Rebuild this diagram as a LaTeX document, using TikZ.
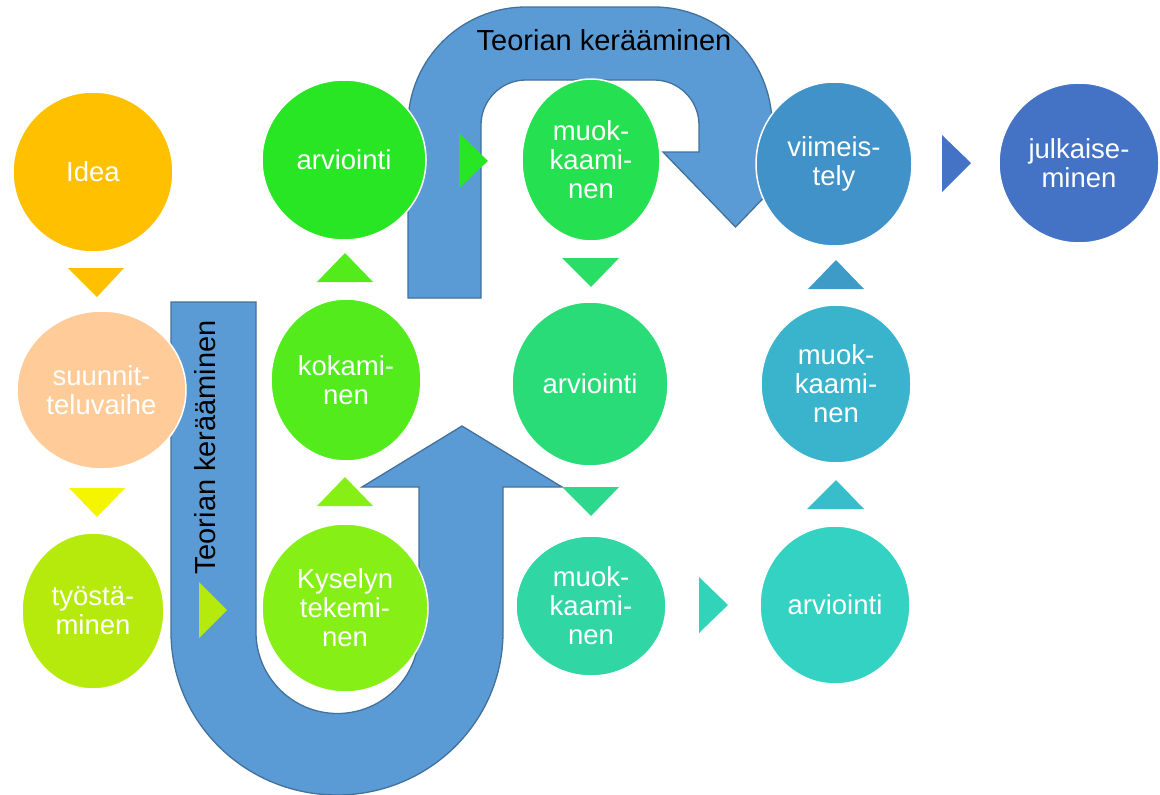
\documentclass[tikz,border=0pt]{standalone}
\usepackage{fontspec}
\setmainfont{Liberation Sans}
\usetikzlibrary{shapes.geometric}
\definecolor{arrowblue}{RGB}{91,155,213}
\definecolor{arrowedge}{RGB}{65,113,156}
\definecolor{cA}{RGB}{255,192,0}
\definecolor{cB}{RGB}{255,204,153}
\definecolor{cBt}{RGB}{245,245,0}
\definecolor{cC}{RGB}{181,234,12}
\definecolor{cD}{RGB}{134,239,21}
\definecolor{cE}{RGB}{83,235,28}
\definecolor{cF}{RGB}{40,230,35}
\definecolor{cG}{RGB}{37,224,80}
\definecolor{cGt}{RGB}{40,222,100}
\definecolor{cH}{RGB}{42,220,120}
\definecolor{cHt}{RGB}{45,216,140}
\definecolor{cI}{RGB}{48,214,164}
\definecolor{cIt}{RGB}{50,212,185}
\definecolor{cJ}{RGB}{52,210,195}
\definecolor{cJt}{RGB}{56,190,202}
\definecolor{cK}{RGB}{58,180,205}
\definecolor{cKt}{RGB}{62,155,200}
\definecolor{cL}{RGB}{64,146,200}
\definecolor{cM}{RGB}{68,114,196}
\begin{document}
\begin{tikzpicture}[x=1pt,y=1pt,
  bub/.style={ellipse, draw=white, line width=1.5pt, inner sep=0pt, text=white,
    align=center, font=\fontsize{27.5}{29}\selectfont},
  uarrow/.style={fill=arrowblue, draw=arrowedge, line width=1.3pt, line join=miter},
  lab/.style={font=\fontsize{29}{31}\selectfont, text=black, inner sep=0pt, anchor=base}
]
\useasboundingbox (0,0) rectangle (1160,-795);

% U-turn arrow bottom
\path[uarrow] (171,-302) -- (256,-302) -- (256,-632)
  arc[start angle=180, end angle=360, radius=81.5pt]
  -- (419,-487) -- (362,-487) -- (462,-426) -- (562,-487) -- (503,-487) -- (503,-632)
  arc[start angle=0, end angle=-180, x radius=166pt, y radius=163pt]
  -- cycle;

% U-turn arrow top
\path[uarrow] (408,-298) -- (408,-125)
  arc[start angle=180, end angle=90, radius=118pt]
  -- (654,-7)
  arc[start angle=90, end angle=0, radius=118pt]
  -- (772,-152) -- (808,-152) -- (735.5,-227) -- (663,-152) -- (699,-152) -- (699,-125)
  arc[start angle=0, end angle=90, radius=45pt]
  -- (526,-80)
  arc[start angle=90, end angle=180, radius=45pt]
  -- (481,-298) -- cycle;

% circles
\node[bub, fill=cA, minimum width=160pt, minimum height=160pt] (idea) at (93,-172) {Idea};
\node[bub, fill=cB, minimum width=169pt, minimum height=158pt] (suun) at (101.5,-390) {suunnit-\\teluvaihe};
\node[bub, fill=cC, minimum width=142pt, minimum height=156pt] (tyo) at (93,-611) {työstä-\\minen};
\node[bub, fill=cD, minimum width=166pt, minimum height=168pt] (kys) at (345,-608) {Kyselyn\\tekemi-\\nen};
\node[bub, fill=cE, minimum width=150pt, minimum height=162pt] (kok) at (346,-380) {kokami-\\nen};
\node[bub, fill=cF, minimum width=164pt, minimum height=160pt] (arv1) at (344,-160) {arviointi};
\node[bub, fill=cG, minimum width=138pt, minimum height=162pt] (muok1) at (591,-160) {muok-\\kaami-\\nen};
\node[bub, fill=cH, minimum width=156pt, minimum height=164pt] (arv2) at (590,-384) {arviointi};
\node[bub, fill=cI, minimum width=150pt, minimum height=140pt] (muok2) at (591,-606) {muok-\\kaami-\\nen};
\node[bub, fill=cJ, minimum width=150pt, minimum height=158pt] (arv3) at (835,-605) {arviointi};
\node[bub, fill=cK, minimum width=150pt, minimum height=158pt] (muok3) at (836,-384) {muok-\\kaami-\\nen};
\node[bub, fill=cL, minimum width=156pt, minimum height=164pt] (viim) at (834,-164) {viimeis-\\tely};
\node[bub, fill=cM, minimum width=160pt, minimum height=160pt] (julk) at (1079,-163) {julkaise-\\minen};

% chevron triangles
\fill[cA]  (68,-268) -- (124,-268) -- (97,-297) -- cycle;
\fill[cBt] (69,-488) -- (125,-488) -- (97,-517) -- cycle;
\fill[cC]  (199,-582) -- (199,-638) -- (227,-610) -- cycle;
\fill[cD]  (317,-506) -- (373,-506) -- (345,-477) -- cycle;
\fill[cE]  (317,-282) -- (373,-282) -- (345,-253) -- cycle;
\fill[cF]  (459,-133) -- (459,-188) -- (488,-161) -- cycle;
\fill[cGt] (562,-258) -- (619,-258) -- (591,-287) -- cycle;
\fill[cHt] (562,-487) -- (619,-487) -- (591,-516) -- cycle;
\fill[cIt] (699,-577) -- (699,-633) -- (728,-605) -- cycle;
\fill[cJt] (807,-509) -- (864,-509) -- (836,-480) -- cycle;
\fill[cKt] (808,-289) -- (864,-289) -- (836,-260) -- cycle;
\fill[cM]  (942,-135) -- (942,-192) -- (971,-163) -- cycle;

% labels
\node[lab] (lab2) at (604,-50) {Teorian kerääminen};
\node[lab, rotate=90] (lab1) at (215,-447.5) {Teorian kerääminen};
\end{tikzpicture}
\end{document}
